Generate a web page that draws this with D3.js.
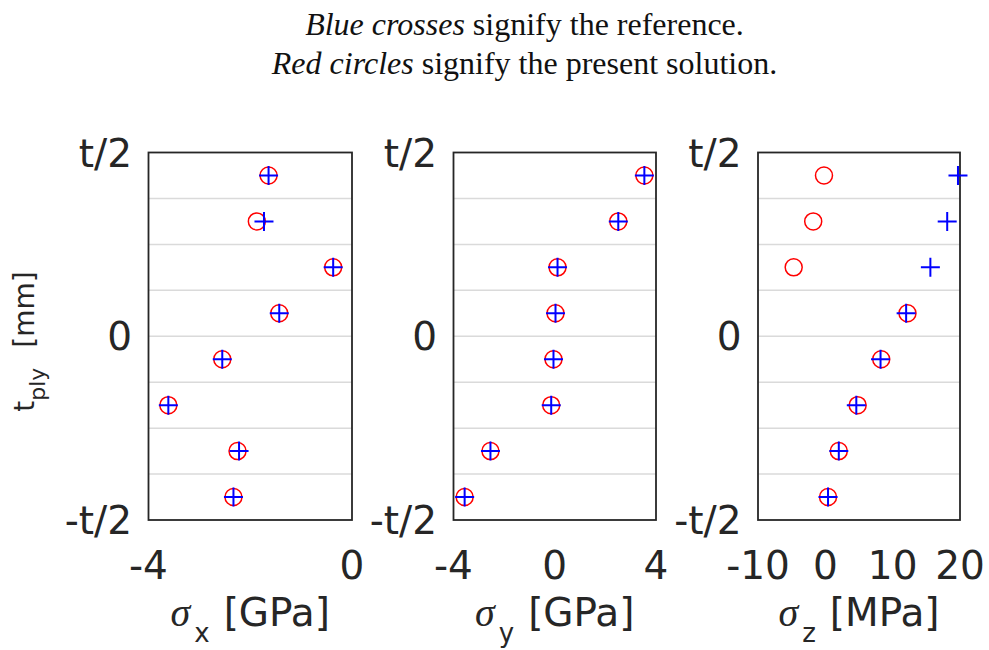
<!DOCTYPE html>
<html><head><meta charset="utf-8">
<script src="https://cdn.jsdelivr.net/npm/d3@7"></script>
<style>html,body{margin:0;padding:0;background:#fff;}svg{display:block;}</style>
</head><body>
<svg id="chart" width="989" height="650"></svg>
<script>
// ---- data ----
const plyPos = [0.4375, 0.3125, 0.1875, 0.0625, -0.0625, -0.1875, -0.3125, -0.4375]; // fraction of t
const gridPos = [0.375, 0.25, 0.125, 0, -0.125, -0.25, -0.375];
const yTickVals = [0.5, 0, -0.5];
const yTickLabels = ["t/2", "0", "-t/2"];

const sigmaXRef = [-1.64, -1.73, -0.37, -1.43, -2.55, -3.61, -2.22, -2.33];
const sigmaXSol = [-1.64, -1.87, -0.37, -1.43, -2.55, -3.61, -2.25, -2.33];
const sigmaYRef = [3.54, 2.51, 0.11, 0.03, -0.05, -0.14, -2.54, -3.56];
const sigmaYSol = [3.54, 2.51, 0.11, 0.03, -0.05, -0.14, -2.54, -3.56];
const sigmaZRef = [19.7, 18.1, 15.6, 12.0, 8.2, 4.6, 2.0, 0.4];
const sigmaZSol = [-0.2, -1.8, -4.7, 12.2, 8.3, 4.8, 2.0, 0.4];

const xDomains = [[-4, 0], [-4, 4], [-10, 20]];
const xTicks = [[-4, 0], [-4, 0, 4], [-10, 0, 10, 20]];
const xLabelSub = ["x", "y", "z"];
const xLabelUnit = ["[GPa]", "[GPa]", "[MPa]"];

const panels = [
  {ref: sigmaXRef, sol: sigmaXSol, left: 148.5, right: 352},
  {ref: sigmaYRef, sol: sigmaYSol, left: 453.5, right: 656},
  {ref: sigmaZRef, sol: sigmaZSol, left: 758, right: 960}
];

const svg = d3.select("#chart");
const plotTop = 152.5, plotBottom = 520;
const y = d3.scaleLinear().domain([-0.5, 0.5]).range([plotBottom, plotTop]);
const tickFont = "'DejaVu Sans', sans-serif";

// Title
const title = svg.append("text").attr("text-anchor", "middle")
  .attr("font-family", "'Liberation Serif', serif").attr("font-size", 32).attr("fill", "#111");
const l1 = title.append("tspan").attr("x", 524.5).attr("y", 35);
l1.append("tspan").attr("font-style", "italic").text("Blue crosses");
l1.append("tspan").text(" signify the reference.");
const l2 = title.append("tspan").attr("x", 524.5).attr("y", 74);
l2.append("tspan").attr("font-style", "italic").text("Red circles");
l2.append("tspan").text(" signify the present solution.");

panels.forEach((p, i) => {
  const x = d3.scaleLinear().domain(xDomains[i]).range([p.left, p.right]);
  const g = svg.append("g");

  // grid lines
  g.selectAll("line.grid").data(gridPos).join("line")
    .attr("x1", p.left).attr("x2", p.right)
    .attr("y1", d => y(d)).attr("y2", d => y(d))
    .attr("stroke", "#dadada").attr("stroke-width", 1.5);

  // box
  g.append("rect").attr("x", p.left).attr("y", plotTop)
    .attr("width", p.right - p.left).attr("height", plotBottom - plotTop)
    .attr("fill", "none").attr("stroke", "#262626").attr("stroke-width", 1.8);

  // y tick labels
  g.selectAll("text.yt").data(yTickVals).join("text")
    .attr("x", p.left - 16.5).attr("y", d => y(d)).attr("dy", "0.36em")
    .attr("text-anchor", "end").attr("font-family", tickFont).attr("font-size", 39)
    .attr("fill", "#262626")
    .text((d, j) => yTickLabels[j]);

  // x tick labels
  g.selectAll("text.xt").data(xTicks[i]).join("text")
    .attr("x", d => x(d)).attr("y", 579)
    .attr("text-anchor", "middle").attr("font-family", tickFont).attr("font-size", 39)
    .attr("fill", "#262626")
    .text(d => String(d));

  // x label
  const cx = (p.left + p.right) / 2;
  const xl = g.append("text").attr("x", cx).attr("y", 626).attr("text-anchor", "middle")
    .attr("font-family", tickFont).attr("font-size", 39).attr("fill", "#262626");
  xl.append("tspan").attr("font-family", "'Liberation Serif', serif").attr("font-style", "italic")
    .attr("font-size", 40).text("σ");
  xl.append("tspan").attr("font-size", 26).attr("dx", 4).attr("dy", 16).text(xLabelSub[i]);
  xl.append("tspan").attr("dx", 14).attr("dy", -16).text(xLabelUnit[i]);

  // markers: red circles
  g.selectAll("circle.sol").data(p.sol).join("circle")
    .attr("cx", d => x(d)).attr("cy", (d, j) => y(plyPos[j])).attr("r", 8.5)
    .attr("fill", "none").attr("stroke", "#ff0000").attr("stroke-width", 1.5);

  // markers: blue crosses
  const cr = 9.5;
  g.selectAll("path.ref").data(p.ref).join("path")
    .attr("d", (d, j) => {
      const px = x(d), py = y(plyPos[j]);
      return `M${px - cr},${py}H${px + cr}M${px},${py - cr}V${py + cr}`;
    })
    .attr("fill", "none").attr("stroke", "#0000ff").attr("stroke-width", 2);
});

// y label
const yl = svg.append("text").attr("transform", "translate(34,341.5) rotate(-90)")
  .attr("text-anchor", "middle").attr("font-family", tickFont).attr("font-size", 28).attr("fill", "#262626");
yl.append("tspan").text("t");
yl.append("tspan").attr("font-size", 22).attr("dy", 11).text("ply");
yl.append("tspan").attr("dx", 20).attr("dy", -11).text("[mm]");
</script>
</body></html>
